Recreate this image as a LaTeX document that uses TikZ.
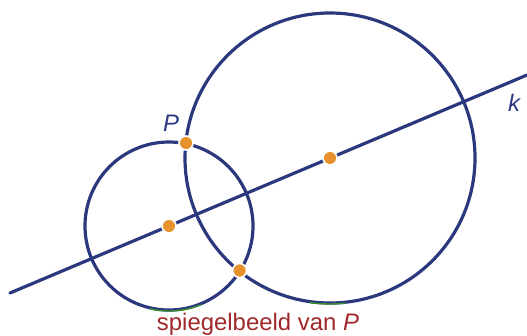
\documentclass[tikz,border=0pt]{standalone}
\usepackage{fontspec}
\setmainfont{Liberation Sans}
\usepackage{tikz}
\usetikzlibrary{calc}
\definecolor{navy}{RGB}{44,56,125}
\definecolor{dotorange}{RGB}{232,146,46}
\definecolor{arcgreen}{RGB}{60,140,50}
\definecolor{labelred}{RGB}{160,40,42}

\begin{document}
\begin{tikzpicture}[x=1bp, y=-1bp,
    curve/.style={navy, line width=3.2bp},
    pt/.style={circle, fill=dotorange, draw=white, line width=1.6bp, minimum size=14bp, inner sep=0pt},
    lbl/.style={navy, font=\fontsize{24}{24}\selectfont\itshape}]
    \useasboundingbox (0,0) rectangle (527,335);

    % Centres, the point and its mirror image
    \coordinate (C1) at (169,226);
    \coordinate (C2) at (330,158);
    \coordinate (P) at (186,143);
    \coordinate (Q) at (239.6,270.5);
    \coordinate (k0) at (10,293);
    \coordinate (k1) at (527,75);

    % Draw the line k and both circles
    \draw[curve, line cap=round] (k0) -- (k1);
    \draw[curve] (C1) circle (84);
    \draw[curve] (C2) circle (145);

    % Green shading at the bottom of the circles
    \draw[arcgreen, line width=1.4bp] ($(C1)+(68:85)$) arc (68:103:85);
    \draw[arcgreen, line width=1.4bp] ($(C2)+(84:146)$) arc (84:98:146);

    % Add the points
    \foreach \c/\n in {C1/m1, C2/m2, P/p, Q/q} \node[pt] (\n) at (\c) {};

    % Add labels
    \node[lbl] (labP) at (171,123) {P};
    \node[lbl] (labk) at (514,103) {k};
    \node[labelred, font=\fontsize{24}{24}\selectfont] (mirror) at (258,324) {spiegelbeeld van \textit{P}};
\end{tikzpicture}
\end{document}
